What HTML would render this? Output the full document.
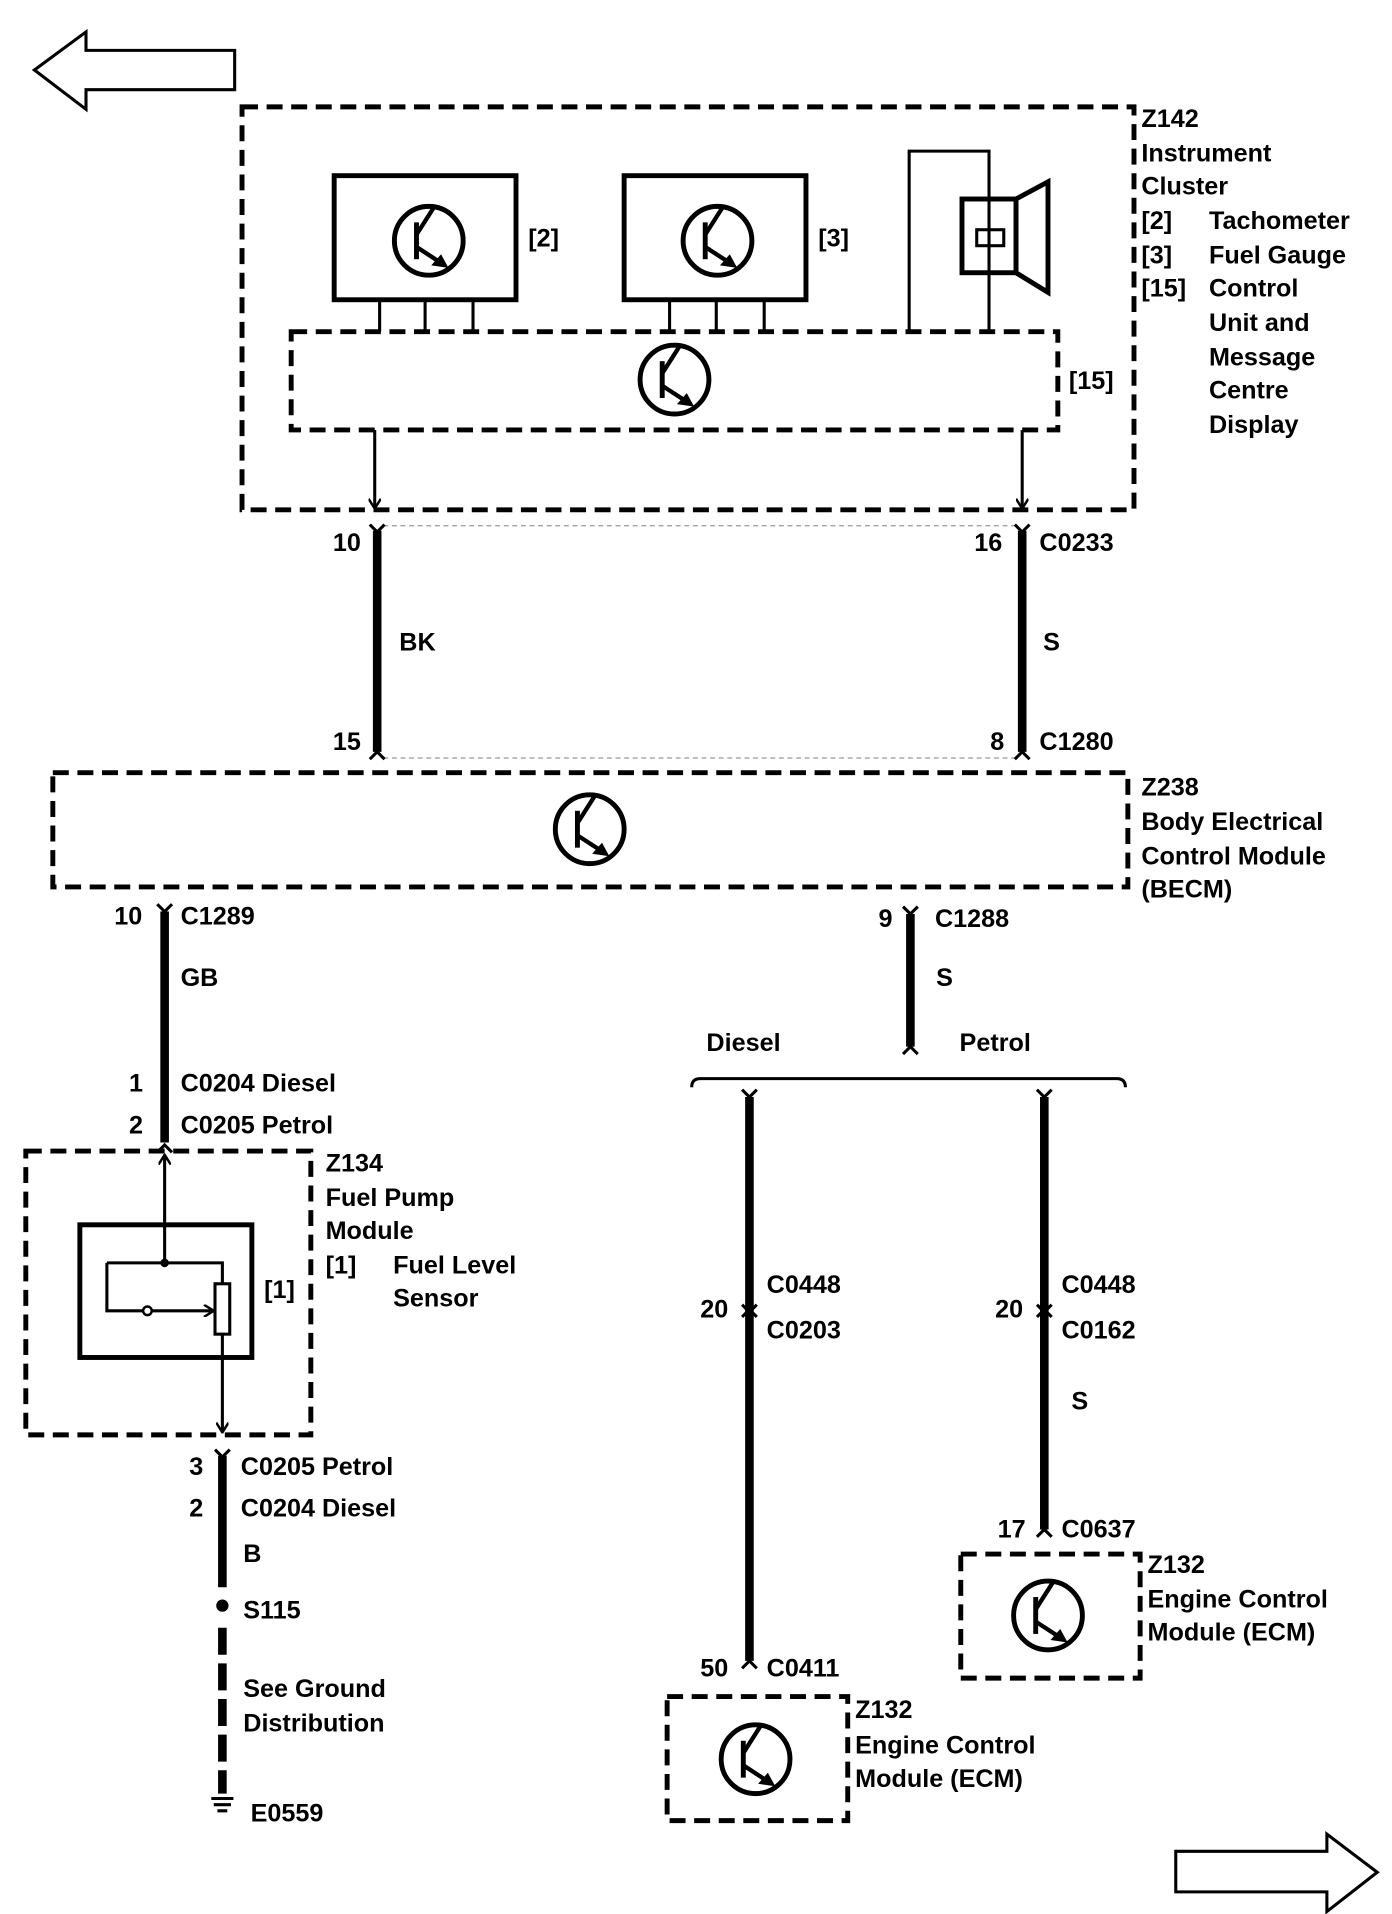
<!DOCTYPE html>
<html><head><meta charset="utf-8"><style>
html,body{margin:0;padding:0;background:#fff}
svg{display:block}
text{font-family:"Liberation Sans",sans-serif;font-weight:bold;font-size:20.5px;fill:#000;dominant-baseline:central}
</style></head><body>
<svg width="1392" height="1914" viewBox="0 0 1133 1558" preserveAspectRatio="none" xmlns="http://www.w3.org/2000/svg">
<defs>
<g id="tr">
<circle cx="0" cy="0" r="28" fill="none" stroke="#000" stroke-width="4"/>
<line x1="-10" y1="-15" x2="-10" y2="15" stroke="#000" stroke-width="4"/>
<line x1="-10" y1="-5" x2="4" y2="-27" stroke="#000" stroke-width="3.5"/>
<line x1="-10" y1="5" x2="10" y2="18" stroke="#000" stroke-width="3.5"/>
<polygon points="16,22 2,20 10,11" fill="#000"/>
</g>
<marker id="ah" markerWidth="10" markerHeight="10" refX="9" refY="5" orient="auto" markerUnits="userSpaceOnUse"><path d="M1,0 L9,5 L1,10" fill="none" stroke="#000" stroke-width="2"/></marker>
</defs>
<g fill="none" stroke="#000">
<polygon points="28,57 70,26 70,41 191,41 191,73 70,73 70,89" stroke-width="2.5"/>
<polygon points="957,1507 1080,1507 1080,1493 1121,1524 1080,1556 1080,1540 957,1540" stroke-width="2.5"/>
<g stroke-width="4" stroke-dasharray="13,7">
<rect x="197" y="87" width="726" height="328"/>
<rect x="237" y="270" width="624" height="80"/>
<rect x="43" y="629" width="875" height="93"/>
<rect x="21" y="937" width="232" height="231"/>
<rect x="782" y="1265" width="146" height="101"/>
<rect x="543" y="1381" width="147" height="101"/>
</g>
<g stroke-width="4">
<rect x="272" y="143" width="148" height="101"/>
<rect x="508" y="143" width="148" height="101"/>
<rect x="65" y="997" width="140" height="108"/>
<rect x="783" y="162" width="44" height="60"/>
<polygon points="827,162 853,148 853,238 827,222"/>
</g>
<g stroke-width="2.5">
<path d="M309,244V270M346,244V270M385,244V270M545,244V270M583,244V270M622,244V270"/>
<path d="M740,270V123H805V270"/>
<rect x="795" y="187" width="22" height="13"/>
<line x1="305" y1="350" x2="305" y2="414" marker-end="url(#ah)"/>
<line x1="832" y1="350" x2="832" y2="414" marker-end="url(#ah)"/>
<line x1="134" y1="1028" x2="134" y2="940" marker-end="url(#ah)"/>
<path d="M87,1028H181V1045M87,1028V1067H116"/>
<line x1="124" y1="1067" x2="174" y2="1067" marker-end="url(#ah)"/>
<rect x="175" y="1045" width="12" height="41"/>
<line x1="181" y1="1086" x2="181" y2="1166" marker-end="url(#ah)"/>
<path d="M563,885 Q563,878 570,878 H909 Q916,878 916,885"/>
</g>
<g stroke="#999" stroke-width="1" stroke-dasharray="4,3">
<line x1="312" y1="428" x2="827" y2="428"/>
<line x1="312" y1="617" x2="827" y2="617"/>
</g>
<g stroke-width="7">
<line x1="307" y1="432" x2="307" y2="612"/>
<line x1="832" y1="432" x2="832" y2="612"/>
<line x1="134" y1="742" x2="134" y2="930"/>
<line x1="741" y1="744" x2="741" y2="852"/>
<line x1="610" y1="893" x2="610" y2="1352"/>
<line x1="850" y1="893" x2="850" y2="1245"/>
<line x1="181" y1="1185" x2="181" y2="1292"/>
<line x1="181" y1="1325" x2="181" y2="1460" stroke-dasharray="22,7"/>
</g>
<g stroke-width="2.5">
<path d="M301,427 L307,433 L313,427 M826,427 L832,433 L838,427"/>
<path d="M301,618 L307,612 L313,618 M826,618 L832,612 L838,618"/>
<path d="M128,736 L134,742 L140,736 M735,738 L741,744 L747,738"/>
<path d="M735,858 L741,852 L747,858 M128,938 L134,932 L140,938"/>
<path d="M604,887 L610,893 L616,887 M844,887 L850,893 L856,887"/>
<path d="M604,1062 L610,1068 L616,1062 M604,1072 L610,1066 L616,1072"/>
<path d="M844,1062 L850,1068 L856,1062 M844,1072 L850,1066 L856,1072"/>
<path d="M844,1251 L850,1245 L856,1251 M604,1358 L610,1352 L616,1358"/>
<path d="M175,1180 L181,1186 L187,1180"/>
<path d="M172,1464H190M174,1469H188M177,1474H185"/>
</g>
</g>
<circle cx="134" cy="1028" r="3.5" fill="#000"/>
<circle cx="120" cy="1067" r="3.5" fill="#fff" stroke="#000" stroke-width="2"/>
<circle cx="181" cy="1307" r="5" fill="#000"/>
<use href="#tr" x="349" y="196"/><use href="#tr" x="584" y="196"/><use href="#tr" x="549" y="309"/>
<use href="#tr" x="480" y="675"/><use href="#tr" x="853" y="1315"/><use href="#tr" x="615" y="1432"/>
<text x="430" y="194">[2]</text><text x="666" y="194">[3]</text><text x="870" y="310">[15]</text>
<text x="929" y="97">Z142</text><text x="929" y="125">Instrument</text><text x="929" y="152">Cluster</text>
<text x="929" y="180">[2]</text><text x="984" y="180">Tachometer</text>
<text x="929" y="208">[3]</text><text x="984" y="208">Fuel Gauge</text>
<text x="929" y="235">[15]</text><text x="984" y="235">Control</text>
<text x="984" y="263">Unit and</text><text x="984" y="291">Message</text><text x="984" y="318">Centre</text><text x="984" y="346">Display</text>
<text x="271" y="442">10</text><text x="793" y="442">16</text><text x="846" y="442">C0233</text>
<text x="325" y="523">BK</text><text x="849" y="523">S</text>
<text x="271" y="604">15</text><text x="806" y="604">8</text><text x="846" y="604">C1280</text>
<text x="929" y="641">Z238</text><text x="929" y="669">Body Electrical</text><text x="929" y="697">Control Module</text><text x="929" y="724">(BECM)</text>
<text x="93" y="746">10</text><text x="147" y="746">C1289</text><text x="147" y="796">GB</text>
<text x="105" y="882">1</text><text x="147" y="882">C0204  Diesel</text>
<text x="105" y="916">2</text><text x="147" y="916">C0205  Petrol</text>
<text x="715" y="748">9</text><text x="761" y="748">C1288</text><text x="762" y="796">S</text>
<text x="575" y="849">Diesel</text><text x="781" y="849">Petrol</text>
<text x="265" y="947">Z134</text><text x="265" y="975">Fuel Pump</text><text x="265" y="1002">Module</text>
<text x="265" y="1030">[1]</text><text x="320" y="1030">Fuel Level</text><text x="320" y="1057">Sensor</text>
<text x="215" y="1050">[1]</text>
<text x="624" y="1046">C0448</text><text x="570" y="1066">20</text><text x="624" y="1083">C0203</text>
<text x="864" y="1046">C0448</text><text x="810" y="1066">20</text><text x="864" y="1083">C0162</text>
<text x="872" y="1141">S</text>
<text x="812" y="1245">17</text><text x="864" y="1245">C0637</text>
<text x="934" y="1274">Z132</text><text x="934" y="1302">Engine Control</text><text x="934" y="1329">Module (ECM)</text>
<text x="570" y="1358">50</text><text x="624" y="1358">C0411</text>
<text x="696" y="1392">Z132</text><text x="696" y="1421">Engine Control</text><text x="696" y="1448">Module (ECM)</text>
<text x="154" y="1194">3</text><text x="196" y="1194">C0205   Petrol</text>
<text x="154" y="1228">2</text><text x="196" y="1228">C0204   Diesel</text>
<text x="198" y="1265">B</text><text x="198" y="1311">S115</text>
<text x="198" y="1375">See Ground</text><text x="198" y="1403">Distribution</text>
<text x="204" y="1476">E0559</text>
</svg>
</body></html>
